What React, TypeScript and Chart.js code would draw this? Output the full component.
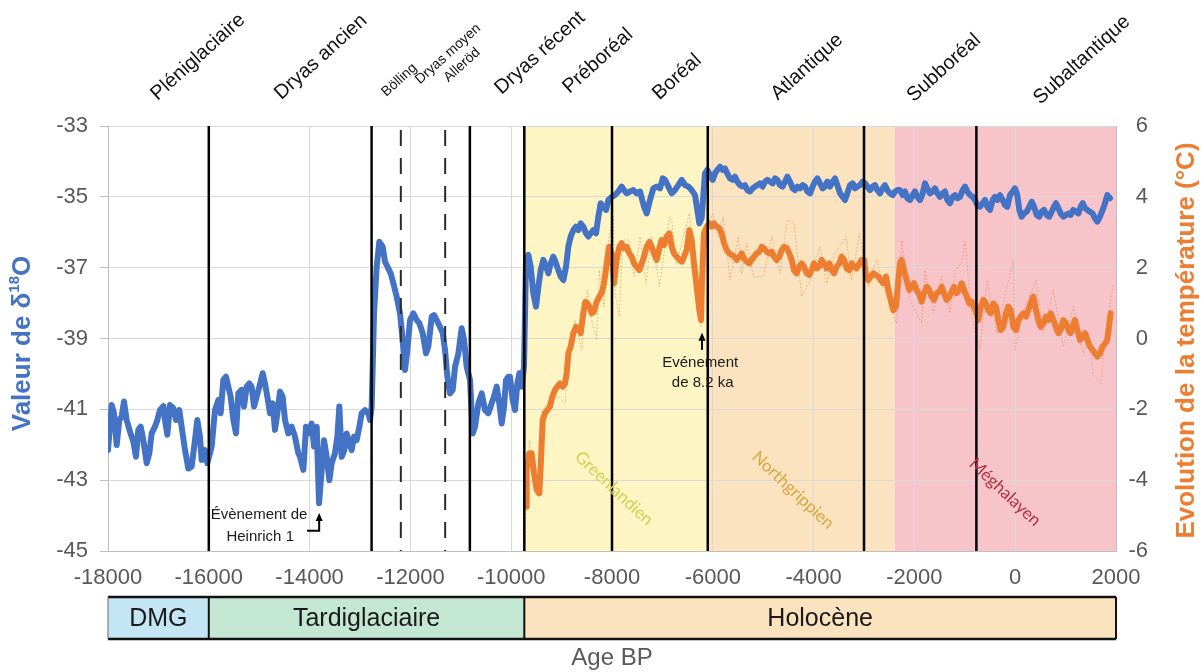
import React, { useEffect, useRef } from "react";
import { Chart, registerables } from "chart.js";
Chart.register(...registerables);

// ---------- DATA ----------
const blueYears = [
  -18000, -17927, -17881, -17828, -17775, -17729, -17683, -17630, -17564, -17498, -17445, -17398, -17352, -17299, -17233, -17180,
  -17134, -17068, -17021, -16968, -16902, -16869, -16823, -16770, -16704, -16651, -16585, -16539, -16472, -16406, -16340, -16274,
  -16228, -16175, -16142, -16076, -16029, -15943, -15877, -15811, -15765, -15712, -15659, -15613, -15566, -15513, -15460, -15414,
  -15348, -15302, -15249, -15196, -15150, -15103, -15050, -14997, -14931, -14885, -14839, -14786, -14733, -14687, -14640, -14587,
  -14535, -14488, -14422, -14356, -14290, -14224, -14190, -14124, -14071, -14025, -13959, -13912, -13859, -13813, -13760, -13714,
  -13661, -13608, -13562, -13496, -13449, -13410, -13363, -13310, -13264, -13211, -13165, -13119, -13066, -13013, -12966, -12900,
  -12834, -12801, -12768, -12722, -12669, -12616, -12550, -12503, -12457, -12391, -12338, -12272, -12206, -12153, -12107, -12060,
  -12007, -11941, -11875, -11822, -11756, -11690, -11644, -11577, -11531, -11478, -11412, -11359, -11313, -11267, -11214, -11161,
  -11114, -11048, -10982, -10936, -10883, -10817, -10764, -10718, -10651, -10585, -10519, -10453, -10387, -10341, -10288, -10235,
  -10189, -10142, -10103, -10056, -10024, -9971, -9924, -9878, -9838, -9792, -9746, -9706, -9660, -9614, -9561, -9508,
  -9461, -9415, -9362, -9309, -9263, -9217, -9164, -9111, -9065, -9018, -8965, -8912, -8866, -8820, -8767, -8714,
  -8668, -8621, -8569, -8516, -8469, -8423, -8370, -8317, -8271, -8225, -8172, -8119, -8072, -8006, -7940, -7874,
  -7808, -7762, -7709, -7643, -7576, -7510, -7444, -7365, -7312, -7246, -7180, -7113, -7047, -6994, -6948, -6882,
  -6816, -6750, -6684, -6617, -6551, -6485, -6419, -6353, -6307, -6267, -6221, -6185, -6155, -6108, -6056, -6003,
  -5956, -5910, -5857, -5804, -5758, -5712, -5659, -5606, -5560, -5513, -5460, -5407, -5361, -5315, -5262, -5209,
  -5163, -5116, -5063, -5011, -4964, -4918, -4865, -4812, -4766, -4720, -4667, -4614, -4567, -4521, -4468, -4415,
  -4369, -4323, -4270, -4217, -4171, -4124, -4071, -4018, -3972, -3926, -3873, -3820, -3774, -3727, -3675, -3622,
  -3575, -3529, -3476, -3423, -3377, -3331, -3278, -3225, -3178, -3132, -3079, -3026, -2980, -2934, -2881, -2828,
  -2782, -2735, -2682, -2630, -2583, -2537, -2484, -2431, -2385, -2338, -2286, -2233, -2187, -2140, -2088, -2035,
  -1988, -1942, -1889, -1836, -1790, -1744, -1691, -1638, -1592, -1545, -1492, -1439, -1393, -1347, -1294, -1241,
  -1195, -1148, -1095, -1043, -996, -950, -897, -844, -798, -752, -699, -646, -599, -553, -500, -447,
  -401, -355, -302, -249, -203, -156, -103, -50, -4, 42, 82, 128, 174, 227, 280, 327,
  373, 426, 479, 525, 571, 624, 677, 723, 770, 809, 856, 902, 955, 1008, 1054, 1100,
  1153, 1206, 1253, 1299, 1339, 1385, 1431, 1484, 1537, 1583, 1630, 1682, 1735, 1782, 1828, 1881,
];
const blueValues = [
  -42.15, -40.88, -41.11, -42.01, -41.3, -41.21, -40.78, -41.3, -41.63, -41.91, -42.34, -41.58, -41.49, -41.87, -42.52, -42.24,
  -41.68, -41.49, -41.3, -41.02, -40.91, -41.3, -41.72, -40.88, -40.97, -41.3, -41.02, -41.49, -42.15, -42.67, -42.62, -41.87,
  -41.3, -41.77, -42.43, -42.15, -42.52, -42.05, -41.02, -40.74, -41.11, -40.17, -40.08, -40.36, -40.64, -41.3, -41.68, -40.55,
  -40.45, -40.92, -40.36, -40.27, -40.36, -40.92, -40.64, -40.36, -39.98, -40.27, -40.64, -41.11, -40.83, -41.58, -41.11, -40.5,
  -40.64, -41.3, -41.68, -41.49, -41.77, -42.24, -42.34, -42.71, -41.49, -41.68, -41.4, -42.05, -41.49, -43.65, -42.71, -41.87,
  -42.34, -43.0, -42.52, -42.24, -41.77, -40.92, -42.34, -42.15, -41.68, -41.96, -42.15, -41.77, -41.87, -41.49, -41.11, -41.02,
  -41.11, -41.3, -40.92, -38.29, -36.97, -36.27, -36.41, -36.83, -36.97, -37.16, -37.44, -37.82, -38.29, -39.04, -39.89, -39.32,
  -38.48, -38.29, -38.48, -38.57, -38.85, -39.42, -39.23, -38.38, -38.34, -38.48, -38.67, -38.85, -39.32, -40.08, -40.55, -40.45,
  -39.8, -39.42, -38.71, -39.04, -39.8, -40.17, -41.68, -41.49, -40.83, -40.55, -41.02, -41.11, -40.83, -40.64, -40.36, -40.83,
  -41.4, -40.92, -40.17, -40.08, -40.08, -40.74, -41.02, -40.27, -39.98, -40.36, -39.8, -36.78, -36.64, -36.97, -37.72, -38.1,
  -37.54, -37.07, -36.78, -36.97, -37.16, -36.88, -36.69, -36.88, -37.07, -37.25, -37.35, -36.97, -36.41, -36.12, -35.94, -35.84,
  -35.94, -35.75, -35.84, -36.03, -36.12, -36.03, -35.94, -36.03, -35.56, -35.18, -35.28, -35.37, -35.09, -35.0, -34.95, -34.85,
  -34.71, -34.81, -34.9, -34.85, -34.81, -34.9, -34.85, -35.28, -35.47, -35.09, -34.76, -34.71, -34.76, -34.48, -34.52, -34.71,
  -34.9, -34.81, -34.67, -34.52, -34.67, -34.71, -34.81, -34.95, -35.37, -35.75, -35.6, -34.9, -34.34, -34.24, -34.38, -34.52,
  -34.34, -34.24, -34.15, -34.24, -34.2, -34.34, -34.48, -34.52, -34.43, -34.57, -34.67, -34.71, -34.67, -34.81, -34.85, -34.76,
  -34.71, -34.67, -34.62, -34.71, -34.57, -34.52, -34.57, -34.62, -34.48, -34.52, -34.67, -34.71, -34.57, -34.43, -34.57, -34.76,
  -34.81, -34.71, -34.76, -34.67, -34.71, -34.85, -34.9, -34.71, -34.57, -34.48, -34.62, -34.76, -34.71, -34.57, -34.71, -34.57,
  -34.48, -34.67, -34.9, -35.0, -35.09, -34.9, -34.67, -34.62, -34.76, -34.71, -34.67, -34.57, -34.62, -34.71, -34.81, -34.71,
  -34.67, -34.81, -34.9, -34.76, -34.67, -34.81, -34.9, -34.95, -34.85, -34.81, -34.81, -34.95, -34.85, -35.04, -35.09, -34.95,
  -34.85, -35.0, -35.09, -34.9, -34.62, -34.76, -34.9, -34.85, -34.76, -34.9, -35.0, -34.9, -34.85, -35.09, -35.18, -35.0,
  -34.95, -35.04, -35.0, -34.81, -34.71, -34.85, -34.95, -35.0, -35.09, -35.23, -35.28, -35.18, -35.09, -35.28, -35.37, -35.09,
  -35.0, -35.09, -34.95, -35.09, -35.23, -35.28, -34.95, -34.85, -34.76, -34.95, -35.37, -35.56, -35.47, -35.42, -35.28, -35.14,
  -35.28, -35.51, -35.56, -35.42, -35.37, -35.51, -35.56, -35.42, -35.28, -35.18, -35.32, -35.47, -35.56, -35.51, -35.47, -35.51,
  -35.37, -35.42, -35.47, -35.28, -35.18, -35.32, -35.37, -35.42, -35.47, -35.61, -35.7, -35.56, -35.37, -35.18, -34.95, -35.04,
];

const tempYears = [
  -9706, -9693, -9640, -9594, -9547, -9494, -9442, -9415, -9375, -9329, -9283, -9230, -9184, -9131, -9084, -9031,
  -8979, -8932, -8899, -8866, -8820, -8767, -8714, -8668, -8621, -8569, -8529, -8489, -8449, -8403, -8357, -8304,
  -8251, -8205, -8158, -8105, -8059, -8006, -7960, -7907, -7854, -7808, -7762, -7709, -7656, -7610, -7563, -7510,
  -7457, -7411, -7365, -7312, -7259, -7213, -7166, -7113, -7061, -7014, -6968, -6915, -6862, -6816, -6769, -6717,
  -6664, -6617, -6571, -6518, -6465, -6419, -6373, -6320, -6267, -6234, -6214, -6175, -6122, -6069, -6023, -5976,
  -5923, -5870, -5824, -5778, -5725, -5672, -5626, -5579, -5526, -5474, -5427, -5381, -5328, -5275, -5229, -5183,
  -5130, -5077, -5030, -4984, -4931, -4878, -4832, -4786, -4733, -4680, -4634, -4587, -4534, -4481, -4435, -4389,
  -4336, -4283, -4237, -4190, -4137, -4085, -4038, -3992, -3939, -3886, -3840, -3794, -3741, -3688, -3641, -3595,
  -3542, -3489, -3443, -3397, -3344, -3291, -3245, -3198, -3145, -3092, -3046, -3000, -2960, -2914, -2868, -2815,
  -2762, -2716, -2669, -2616, -2563, -2517, -2471, -2418, -2365, -2319, -2286, -2253, -2207, -2154, -2101, -2055,
  -2008, -1955, -1902, -1856, -1810, -1757, -1704, -1658, -1611, -1558, -1506, -1459, -1413, -1360, -1307, -1261,
  -1215, -1162, -1109, -1062, -1016, -963, -910, -864, -818, -778, -732, -685, -632, -580, -533, -487,
  -434, -381, -335, -289, -236, -183, -136, -90, -37, 16, 62, 108, 161, 214, 260, 307,
  360, 413, 459, 505, 558, 611, 657, 704, 757, 809, 856, 902, 955, 1008, 1054, 1100,
  1140, 1186, 1233, 1286, 1339, 1385, 1431, 1484, 1537, 1583, 1630, 1682, 1735, 1782, 1828, 1868, 1894,
];
const tempValues = [
  -4.75, -3.71, -3.24, -3.24, -3.81, -4.28, -4.37, -3.62, -2.3, -2.11, -2.02, -1.92, -1.64, -1.45, -1.36, -1.27,
  -1.36, -1.27, -0.98, -0.42, -0.23, 0.15, 0.33, 0.29, 0.15, 0.71, 1.04, 0.99, 0.9, 0.71, 0.76, 1.04,
  1.18, 1.28, 1.56, 2.12, 2.59, 2.4, 1.56, 2.22, 2.59, 2.69, 2.55, 2.59, 2.4, 2.31, 2.12, 2.03,
  1.93, 2.12, 2.31, 2.59, 2.73, 2.59, 2.4, 2.22, 2.55, 2.78, 2.64, 2.88, 2.97, 2.59, 2.4, 2.31,
  2.22, 2.17, 2.31, 2.5, 3.06, 2.78, 2.12, 1.46, 0.8, 0.52, 1.65, 2.97, 3.16, 3.25, 3.16, 3.25,
  3.16, 3.11, 2.97, 2.69, 2.5, 2.4, 2.36, 2.31, 2.22, 2.31, 2.4, 2.26, 2.17, 2.12, 2.22, 2.31,
  2.4, 2.45, 2.59, 2.55, 2.45, 2.4, 2.45, 2.31, 2.22, 2.31, 2.5, 2.59, 2.55, 2.4, 2.22, 1.93,
  1.84, 2.03, 2.12, 2.03, 1.84, 1.79, 1.93, 2.12, 1.98, 2.03, 2.22, 2.12, 1.98, 2.12, 1.93, 1.84,
  2.03, 2.12, 2.31, 2.22, 1.98, 1.93, 2.12, 2.03, 1.98, 2.12, 2.22, 2.22, 1.75, 1.65, 1.75, 1.84,
  1.79, 1.75, 1.65, 1.56, 1.75, 1.37, 1.09, 0.8, 0.9, 1.65, 2.12, 2.22, 1.93, 1.65, 1.37, 1.46,
  1.56, 1.37, 1.23, 1.04, 1.28, 1.46, 1.37, 1.18, 1.09, 1.28, 1.32, 1.46, 1.28, 1.09, 1.18, 1.32,
  1.46, 1.28, 1.37, 1.56, 1.37, 1.18, 0.99, 1.04, 0.9, 0.76, 0.52, 0.9, 1.09, 0.99, 0.8, 0.71,
  0.99, 0.9, 0.52, 0.24, 0.33, 0.71, 0.9, 0.8, 0.33, 0.24, 0.52, 0.62, 0.71, 0.62, 0.8, 0.99,
  1.18, 0.8, 0.52, 0.33, 0.43, 0.62, 0.52, 0.71, 0.52, 0.33, 0.15, 0.24, 0.52, 0.43, 0.24, 0.15,
  0.33, 0.52, 0.24, -0.04, 0.05, 0.15, -0.04, -0.23, -0.32, -0.42, -0.51, -0.42, -0.23, -0.14, -0.04, 0.43, 0.71,
];

const tempRawYears = [
  -9726, -9706, -9640, -9481, -9375, -9230, -9065, -8932, -8866, -8734, -8602, -8489, -8403, -8304, -8251, -8158,
  -8059, -7973, -7940, -7854, -7788, -7656, -7563, -7444, -7325, -7213, -7061, -6862, -6816, -6717, -6465, -6234,
  -6175, -5989, -5890, -5791, -5659, -5493, -5427, -5328, -5196, -4997, -4832, -4667, -4521, -4389, -4237, -4071,
  -3873, -3741, -3575, -3357, -3245, -3092, -2914, -2749, -2550, -2352, -2253, -2088, -1856, -1790, -1625, -1459,
  -1294, -1195, -1062, -996, -864, -699, -553, -368, -37, -4, 194, 413, 558, 757, 955, 1153,
  1352, 1451, 1550, 1702, 1782, 1947,
];
const tempRawValues = [
  -5.97, -4.65, -2.87, -4.47, -2.02, -1.74, -1.64, -1.83, -0.32, 0.52, -0.32, 1.37, 0.52, -0.04, 1.93, 0.9,
  2.88, 3.44, 1.28, 0.62, 2.78, 2.78, 1.75, 2.88, 1.56, 2.88, 1.46, 3.44, 3.35, 2.12, 3.53, 0.33,
  3.06, 3.53, 2.88, 3.44, 1.65, 2.88, 1.84, 2.69, 1.75, 1.75, 2.88, 1.84, 3.35, 3.25, 1.18, 1.65,
  2.59, 1.56, 2.4, 2.88, 1.65, 2.97, 1.46, 2.22, 1.18, 0.43, 2.78, 1.09, 0.43, 1.93, 0.71, 1.75,
  0.71, 1.93, 2.12, 2.78, 0.62, -0.32, 1.65, 0.15, 2.22, -0.32, 0.9, 1.65, 0.15, 1.37, -0.23, 0.9,
  -0.42, 0.15, -1.03, -1.27, 0.05, 1.56,
];

// axis ticks
const xTickMin = -18000, xTickMax = 2000, xTickStep = 2000;
const yLeftMin = -45, yLeftMax = -33, yLeftStep = 2;
const yRightMin = -6, yRightMax = 6, yRightStep = 2;

// climatic stages (top labels)
const stageNames = ["Pléniglaciaire", "Dryas ancien", "Bölling", "Dryas moyen", "Alleröd", "Dryas récent", "Préboréal", "Boréal", "Atlantique", "Subboréal", "Subaltantique"];
const stageCenters = [-16214, -13774, -12220, -11254, -10976, -9429, -8278, -6710, -4131, -1413, 1325];

// chronozone boundaries
const solidBoundaries = [-16000, -12770, -10820, -9740, -8000, -6100, -3000, -770];
const dashedBoundaries = [-12190, -11310];

// background bands (Greenlandien / Northgrippien / Méghalayen)
const bandNames = ["Greenlandien", "Northgrippien", "Méghalayen"];
const bandStarts = [-9740, -6100, -2390];
const bandEnds = [-6100, -2390, 2000];
const bandLabelX = [-7960, -4409, -203];
const bandLabelY = [-43.23, -43.28, -43.34];

// lower period bar
const periodNames = ["DMG", "Tardiglaciaire", "Holocène"];
const periodStarts = [-18000, -16000, -9740];
const periodEnds = [-16000, -9740, 2000];

// ---------- STYLE ----------
const FONT = "'Liberation Sans', Arial, Helvetica, sans-serif";
const BLUE = "#4472C4";
const ORANGE = "#ED7D31";
const GRID = "#D9D9D9";
const AXIS = "#BFBFBF";
const TICK = "#595959";
const bandColors = ["#FDF5C3", "#FBE3C0", "#F7C4CA"];
const bandTextColors = ["#D3CF55", "#D9A63E", "#B3303F"];
const periodColors = ["#C3E5F4", "#C3E7D3", "#FBE3BF"];
const stageLift = [69, 69, 46, 72, 61, 73, 65, 49, 59, 58, 66];
const stageSize = [20, 20, 14, 14, 14, 20, 20, 20, 20, 20, 20];

const decor = {
  id: "decor",
  beforeDraw(chart: any) {
    const { ctx, chartArea: ca, scales } = chart;
    const xs = scales.x;
    ctx.save();
    bandStarts.forEach((s, i) => {
      const x0 = xs.getPixelForValue(s);
      const x1 = xs.getPixelForValue(bandEnds[i]);
      ctx.fillStyle = bandColors[i];
      ctx.fillRect(x0, ca.top, x1 - x0, ca.bottom - ca.top);
    });
    ctx.restore();
  },
  afterDatasetsDraw(chart: any) {
    const { ctx, chartArea: ca, scales } = chart;
    const xs = scales.x, ys = scales.y;
    ctx.save();
    ctx.strokeStyle = "#000";
    ctx.lineWidth = 2.5;
    solidBoundaries.forEach((b) => {
      const px = xs.getPixelForValue(b);
      ctx.beginPath();
      ctx.moveTo(px, ca.top);
      ctx.lineTo(px, ca.bottom);
      ctx.stroke();
    });
    ctx.strokeStyle = "#2a2a2a";
    ctx.lineWidth = 2;
    ctx.setLineDash([16, 12]);
    dashedBoundaries.forEach((b) => {
      const px = xs.getPixelForValue(b);
      ctx.beginPath();
      ctx.moveTo(px, ca.top + 4);
      ctx.lineTo(px, ca.bottom);
      ctx.stroke();
    });
    ctx.setLineDash([]);

    bandNames.forEach((n, i) => {
      ctx.save();
      ctx.translate(xs.getPixelForValue(bandLabelX[i]), ys.getPixelForValue(bandLabelY[i]));
      ctx.rotate((43 * Math.PI) / 180);
      ctx.font = "17px Lato, 'Open Sans', sans-serif";
      ctx.fillStyle = bandTextColors[i];
      ctx.textAlign = "center";
      ctx.textBaseline = "middle";
      ctx.fillText(n, 0, 0);
      ctx.restore();
    });

    ctx.fillStyle = "#1a1a1a";
    ctx.font = `15px ${FONT}`;
    ctx.textAlign = "center";
    ctx.textBaseline = "middle";
    ctx.fillText("Évènement de", xs.getPixelForValue(-15004), ys.getPixelForValue(-43.99));
    ctx.fillText("Heinrich 1", xs.getPixelForValue(-14980), ys.getPixelForValue(-44.6));
    ctx.fillText("Evénement", xs.getPixelForValue(-6250), ys.getPixelForValue(-39.68));
    ctx.fillText("de 8.2 ka", xs.getPixelForValue(-6200), ys.getPixelForValue(-40.26));

    const arrowUp = (x: number, yTip: number) => {
      ctx.beginPath();
      ctx.moveTo(x, yTip);
      ctx.lineTo(x - 3.5, yTip + 8);
      ctx.lineTo(x + 3.5, yTip + 8);
      ctx.closePath();
      ctx.fill();
    };
    ctx.strokeStyle = "#000";
    ctx.fillStyle = "#000";
    ctx.lineWidth = 2;
    const hx = xs.getPixelForValue(-13810);
    const hx0 = xs.getPixelForValue(-14050);
    const hyB = ys.getPixelForValue(-44.43);
    const hyT = ys.getPixelForValue(-43.93);
    ctx.beginPath();
    ctx.moveTo(hx0, hyB);
    ctx.lineTo(hx, hyB);
    ctx.lineTo(hx, hyT + 6);
    ctx.stroke();
    arrowUp(hx, hyT);
    const ex = xs.getPixelForValue(-6214);
    const eyB = ys.getPixelForValue(-39.32);
    const eyT = ys.getPixelForValue(-38.84);
    ctx.beginPath();
    ctx.moveTo(ex, eyB);
    ctx.lineTo(ex, eyT + 6);
    ctx.stroke();
    arrowUp(ex, eyT);
    ctx.restore();
  },
  afterDraw(chart: any) {
    const { ctx, chartArea: ca, scales } = chart;
    const xs = scales.x;
    ctx.save();
    stageNames.forEach((n, i) => {
      ctx.save();
      ctx.translate(xs.getPixelForValue(stageCenters[i]), ca.top - stageLift[i]);
      ctx.rotate((-42 * Math.PI) / 180);
      ctx.font = `${stageSize[i]}px ${FONT}`;
      ctx.fillStyle = "#111";
      ctx.textAlign = "center";
      ctx.textBaseline = "middle";
      ctx.fillText(n, 0, 0);
      ctx.restore();
    });

    ctx.save();
    ctx.translate(23, (ca.top + ca.bottom) / 2 + 5);
    ctx.rotate(-Math.PI / 2);
    ctx.fillStyle = BLUE;
    ctx.textBaseline = "middle";
    ctx.textAlign = "left";
    const big = `bold 26px ${FONT}`;
    const small = `bold 15px ${FONT}`;
    ctx.font = big;
    const p1 = "Valeur de δ";
    const w1 = ctx.measureText(p1).width;
    const w3 = ctx.measureText("O").width;
    ctx.font = small;
    const w2 = ctx.measureText("18").width;
    let sx = -(w1 + w2 + w3) / 2;
    ctx.font = big;
    ctx.fillText(p1, sx, 0);
    sx += w1;
    ctx.font = small;
    ctx.fillText("18", sx, -8);
    sx += w2;
    ctx.font = big;
    ctx.fillText("O", sx, 0);
    ctx.restore();

    ctx.save();
    ctx.translate(1187, (ca.top + ca.bottom) / 2 + 2);
    ctx.rotate(-Math.PI / 2);
    ctx.fillStyle = ORANGE;
    ctx.font = `bold 26px ${FONT}`;
    ctx.textAlign = "center";
    ctx.textBaseline = "middle";
    ctx.fillText("Evolution de la température (°C)", 0, 0);
    ctx.restore();

    const barTop = 597, barBot = 639;
    periodNames.forEach((n, i) => {
      const x0 = xs.getPixelForValue(periodStarts[i]);
      const x1 = xs.getPixelForValue(periodEnds[i]);
      ctx.fillStyle = periodColors[i];
      ctx.fillRect(x0, barTop, x1 - x0, barBot - barTop);
      ctx.fillStyle = "#1a1a1a";
      ctx.font = `25px ${FONT}`;
      ctx.textAlign = "center";
      ctx.textBaseline = "middle";
      ctx.fillText(n, (x0 + x1) / 2, (barTop + barBot) / 2 + 1);
    });
    const bx0 = xs.getPixelForValue(periodStarts[0]);
    const bx1 = xs.getPixelForValue(periodEnds[periodEnds.length - 1]);
    ctx.strokeStyle = "#111";
    ctx.lineWidth = 2.5;
    ctx.beginPath();
    ctx.moveTo(bx0, barTop);
    ctx.lineTo(bx1, barTop);
    ctx.moveTo(bx0, barBot);
    ctx.lineTo(bx1, barBot);
    ctx.stroke();
    ctx.lineWidth = 2;
    ctx.beginPath();
    periodStarts.slice(1).forEach((s) => {
      const px = xs.getPixelForValue(s);
      ctx.moveTo(px, barTop);
      ctx.lineTo(px, barBot);
    });
    ctx.moveTo(bx1, barTop);
    ctx.lineTo(bx1, barBot);
    ctx.stroke();
    ctx.lineWidth = 1;
    ctx.strokeStyle = "#666";
    ctx.beginPath();
    ctx.moveTo(bx0, barTop);
    ctx.lineTo(bx0, barBot);
    ctx.stroke();

    ctx.fillStyle = TICK;
    ctx.font = `24px ${FONT}`;
    ctx.textAlign = "center";
    ctx.textBaseline = "middle";
    ctx.fillText("Age BP", (ca.left + ca.right) / 2, 658);
    ctx.restore();
  },
};

const toPts = (xsArr: number[], ysArr: number[]) => xsArr.map((x, i) => ({ x, y: ysArr[i] }));

export default function App() {
  const ref = useRef<HTMLCanvasElement | null>(null);
  useEffect(() => {
    if (!ref.current) return;
    const chart = new Chart(ref.current, {
      type: "line",
      data: {
        datasets: [
          {
            label: "δ18O",
            data: toPts(blueYears, blueValues),
            borderColor: BLUE,
            borderWidth: 6,
            pointRadius: 0,
            tension: 0,
            yAxisID: "y",
            borderJoinStyle: "round",
            borderCapStyle: "round",
          },
          {
            label: "Température",
            data: toPts(tempYears, tempValues),
            borderColor: ORANGE,
            borderWidth: 6,
            pointRadius: 0,
            tension: 0,
            yAxisID: "y1",
            borderJoinStyle: "round",
            borderCapStyle: "round",
          },
          {
            label: "Température (brute)",
            data: toPts(tempRawYears, tempRawValues),
            borderColor: "rgba(237,125,49,0.6)",
            borderWidth: 1,
            borderDash: [1.5, 2],
            pointRadius: 0,
            tension: 0,
            yAxisID: "y1",
          },
        ],
      } as any,
      options: {
        responsive: false,
        animation: false,
        devicePixelRatio: 1,
        layout: { padding: { left: 0, right: 53, top: 126, bottom: 0 } },
        plugins: { legend: { display: false }, tooltip: { enabled: false }, title: { display: false } },
        scales: {
          x: {
            type: "linear",
            min: xTickMin,
            max: xTickMax,
            afterFit: (s: any) => { s.height = 121; },
            ticks: {
              stepSize: xTickStep,
              color: TICK,
              font: { family: FONT, size: 22 },
              padding: 14,
              maxRotation: 0,
              autoSkip: false,
              callback: (v: any) => String(v),
            },
            grid: { color: GRID, lineWidth: 1, drawTicks: false },
            border: { color: AXIS, width: 1 },
          },
          y: {
            position: "left",
            min: yLeftMin,
            max: yLeftMax,
            afterFit: (s: any) => { s.width = 108; },
            ticks: { stepSize: yLeftStep, color: TICK, font: { family: FONT, size: 22 }, padding: 12, callback: (v: any) => String(v) },
            grid: { color: GRID, lineWidth: 1, tickLength: 8, tickColor: AXIS },
            border: { color: AXIS, width: 1 },
          },
          y1: {
            position: "right",
            min: yRightMin,
            max: yRightMax,
            afterFit: (s: any) => { s.width = 32; },
            ticks: { stepSize: yRightStep, color: TICK, font: { family: FONT, size: 22 }, crossAlign: "far", padding: 6, callback: (v: any) => String(v) },
            grid: { drawOnChartArea: false, drawTicks: false },
            border: { color: AXIS, width: 1 },
          },
        },
      } as any,
      plugins: [decor],
    });
    return () => chart.destroy();
  }, []);
  return (
    <div style={{ position: "absolute", left: 0, top: 0, width: 1201, height: 672, background: "#fff", overflow: "hidden" }}>
      <canvas ref={ref} width={1201} height={672} style={{ display: "block", width: 1201, height: 672 }} />
    </div>
  );
}
